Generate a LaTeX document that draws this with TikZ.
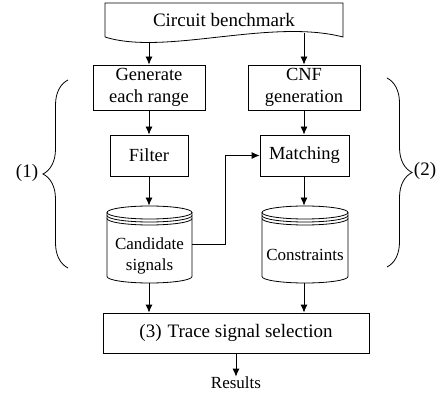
\documentclass[tikz,border=0pt]{standalone}
\usepackage{fontspec}
\setmainfont{Liberation Serif}
\usetikzlibrary{arrows.meta,decorations.pathreplacing}
\newcommand{\drawdbcyl}[2]{%
  \draw (#1,212.5) ellipse [x radius=#2pt, y radius=6.5pt];
  \draw (#1-#2,215.5) arc[start angle=180,end angle=360,x radius=#2pt,y radius=6.5pt];
  \draw (#1-#2,218.5) arc[start angle=180,end angle=360,x radius=#2pt,y radius=6.5pt];
  \draw (#1-#2,212.5) -- (#1-#2,276.5) arc[start angle=180,end angle=360,x radius=#2pt,y radius=6.5pt] -- (#1+#2,212.5);
}
\begin{document}
\begin{tikzpicture}[x=1pt,y=-1pt,line width=0.8pt,
  box/.style={draw,rectangle,inner sep=0pt,align=center,font=\fontsize{18.5}{22}\selectfont},
  cyltext/.style={rectangle,inner sep=0pt,align=center,font=\fontsize{17}{21}\selectfont},
  arr/.style={-{Latex[length=8pt,width=7pt]}},
  lbl/.style={inner sep=0pt,font=\fontsize{19}{22}\selectfont},
  bracestyle/.style={decorate,decoration={brace,amplitude=25pt,aspect=0.5}}]
\useasboundingbox (0,0) rectangle (442,398);

% document shape
\draw (105,37) -- (105,3) -- (343,3) -- (343,37)
  .. controls (270,18) and (165,56) .. (105,37);
\node[lbl] (bench) at (224,20) {Circuit benchmark};
\coordinate (benchL) at (149,42.5);
\coordinate (benchR) at (304,33);

\node[box,minimum width=112pt,minimum height=45pt] (gen) at (149,87.5) {Generate\\each range};
\node[box,minimum width=112pt,minimum height=45pt] (cnf) at (304,87.5) {CNF\\generation};
\node[box,minimum width=78pt,minimum height=41pt] (filter) at (149,155.5) {Filter};
\node[box,minimum width=89pt,minimum height=41pt] (match) at (304.5,155.5) {Matching};

\drawdbcyl{149.5}{42.5}
\drawdbcyl{305}{43}
\node[rectangle,inner sep=0pt,minimum width=85pt,minimum height=77pt] (cand) at (149.5,244.5) {};
\node[rectangle,inner sep=0pt,minimum width=86pt,minimum height=77pt] (cons) at (305,244.5) {};
\node[cyltext] at (149.5,256) {Candidate\\signals};
\node[cyltext] at (305,255) {Constraints};

\node[box,font=\fontsize{19}{22}\selectfont,minimum width=266pt,minimum height=40pt] (trace) at (236,333) {(3)\hspace{6pt}Trace signal selection};
\node[lbl,font=\fontsize{17}{20}\selectfont] (res) at (236,383) {Results};

\draw[arr] (benchL) -- (gen.north -| benchL);
\draw[arr] (benchR) -- (cnf.north -| benchR);
\draw[arr] (gen.south) -- (filter.north);
\draw[arr] (cnf.south) -- (match.north -| cnf.south);
\draw[arr] (filter.south) -- (cand.north -| filter.south);
\draw[arr] (match.south -| cnf.south) -- (cons.north -| cnf.south);
\draw[arr] (cand.east) -- (225,244.5) |- (match.west);
\draw[arr] (cand.south -| filter.south) -- (trace.north -| filter.south);
\draw[arr] (cons.south -| cnf.south) -- (trace.north -| cnf.south);
\draw[arr] (trace.south) -- (res.north);

% braces
\coordinate (b1s) at (68,268);
\coordinate (b1e) at (68,80);
\draw[bracestyle] (b1s) -- (b1e);
\node[lbl] (l1) at (27,173) {(1)};
\coordinate (b2s) at (387,78);
\coordinate (b2e) at (387,267);
\draw[bracestyle] (b2s) -- (b2e);
\node[lbl] (l2) at (425,171) {(2)};
\end{tikzpicture}
\end{document}
